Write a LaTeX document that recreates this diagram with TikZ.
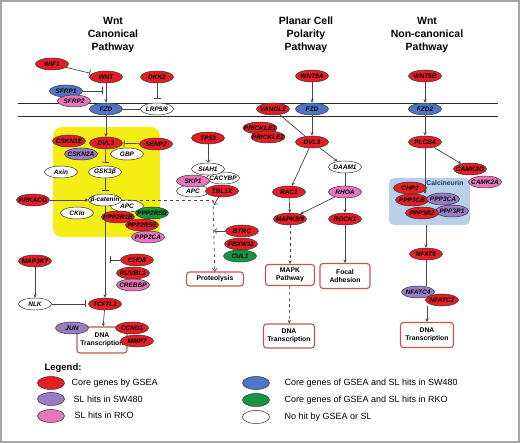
\documentclass[tikz,border=0pt]{standalone}
\usepackage{fontspec}
\setmainfont{Liberation Sans}
\usetikzlibrary{shapes.geometric,arrows.meta}
\definecolor{genered}{RGB}{228,30,36}
\definecolor{geneblue}{RGB}{78,118,196}
\definecolor{genepurple}{RGB}{152,124,198}
\definecolor{genepink}{RGB}{232,118,190}
\definecolor{genegreen}{RGB}{22,150,62}
\definecolor{boxyellow}{RGB}{244,238,20}
\definecolor{calcblue}{RGB}{186,208,234}
\definecolor{calctext}{RGB}{30,52,100}
\definecolor{boxred}{RGB}{196,84,84}
\definecolor{linegray}{RGB}{70,70,70}
\begin{document}
\begin{tikzpicture}[x=1pt,y=-1pt,
  gene/.style={ellipse,draw=black!80,line width=0.5pt,minimum width=33pt,minimum height=12pt,
    inner xsep=-4pt,inner ysep=0pt,font=\fontsize{6.5}{6.5}\selectfont\bfseries\itshape},
  core/.style={gene,fill=genered},
  slsw/.style={gene,fill=genepurple},
  slrko/.style={gene,fill=genepink},
  coresw/.style={gene,fill=geneblue},
  corerko/.style={gene,fill=genegreen},
  nohit/.style={gene,fill=white},
  outcome/.style={draw=boxred,line width=1.1pt,rounded corners=3pt,fill=white,align=center,
    inner sep=1pt,font=\fontsize{6.8}{8.5}\selectfont\bfseries},
  pathtitle/.style={align=center,font=\fontsize{10.5}{13}\selectfont\bfseries},
  legtext/.style={anchor=west,font=\fontsize{9}{10}\selectfont},
  link/.style={draw=linegray,line width=0.7pt},
  arr/.style={link,-{Stealth[length=3.5pt,width=3.2pt]}},
  inh/.style={link,-{Bar[width=7pt,line width=0.8pt]}},
  chev/.style={link,-{Straight Barb[length=2.5pt,width=5pt]}}]

  \useasboundingbox (0,0) rectangle (520,443);
  \draw[gray!70,line width=1.5pt] (1,1) rectangle (519,442);

  \draw (113,35) node[pathtitle] (tcan) {Wnt\\Canonical\\Pathway};
  \draw (306,35) node[pathtitle] (tpcp) {Planar Cell\\Polarity\\Pathway};
  \draw (427,35) node[pathtitle] (tnon) {Wnt\\Non-canonical\\Pathway};

  \draw[black!85,line width=0.9pt] (18,103) -- (498,103);
  \draw[black!85,line width=0.9pt] (18,116) -- (498,116);

  \draw[fill=boxyellow,draw=none,rounded corners=9pt] (53,127) rectangle (160,237);
  \draw (429.5,201.5) node[fill=calcblue,rounded corners=5pt,minimum width=81pt,minimum height=47pt] (calc) {};
  \draw (445,183) node[text=calctext,font=\fontsize{6.8}{7}\selectfont\bfseries] (calclabel) {Calcineurin};

  \draw (52,64) node[core] (wif1) {WIF1};
  \draw (106,77) node[core] (wnt) {WNT};
  \draw (157,77) node[core] (dkk2) {DKK2};
  \draw (66,91) node[coresw] (sfrp1) {SFRP1};
  \draw (74,101) node[slrko] (sfrp2) {SFRP2};
  \draw (106,109) node[coresw] (fzd) {FZD};
  \draw (157,109) node[nohit] (lrp) {LRP5/6};

  \draw (69,141) node[core] (csnk1e) {CSKN1E};
  \draw (106,143) node[core] (dvl) {DVL3};
  \draw (156,144) node[core] (senp2) {SENP2};
  \draw (81,154) node[slsw] (csnk2a) {CSKN2A};
  \draw (127,154) node[nohit] (gbp) {GBP};
  \draw (61,172) node[nohit] (axin) {Axin};
  \draw (105,172) node[nohit] (gsk) {GSK3β};
  \draw (127,206) node[nohit] (apc) {APC};
  \draw (105,200) node[nohit] (bcat) {β-catenin};
  \draw (33,200) node[core] (prkacg) {PRKACG};
  \draw (77,213) node[nohit] (ckia) {CKIα};
  \draw (152,213) node[corerko] (ppp2r5d) {PPP2R5D};
  \draw (118,217) node[core] (ppp2r1b) {PPP2R1B};
  \draw (142,225) node[core] (ppp2r5e) {PPP2R5E};
  \draw (148,237) node[slrko] (ppp2ca) {PPP2CA};

  \draw (208,138) node[core] (tp53) {TP53};
  \draw (223,178) node[nohit] (cacybp) {CACYBP};
  \draw (208,169) node[nohit] (siah1) {SIAH1};
  \draw (193,191) node[nohit] (apcb) {APC};
  \draw (193,181) node[slrko] (skp1) {SKP1};
  \draw (222,191) node[core] (tbl1x) {TBL1X};
  \draw (242,231) node[core] (btrc) {BTRC};
  \draw (241,244) node[core] (fbxw11) {FBXW11};
  \draw (240,256) node[corerko] (cul1) {CUL1};
  \draw (215,279) node[outcome,minimum width=57pt,minimum height=14pt] (prot) {Proteolysis};

  \draw (137,260) node[core] (chd8) {CHD8};
  \draw (133,273) node[core] (ruvbl1) {RUVBL1};
  \draw (133,285) node[slrko] (crebbp) {CREBBP};
  \draw (35,261) node[core] (map3k7) {MAP3K7};
  \draw (35,304) node[nohit] (nlk) {NLK};
  \draw (105,304) node[core] (tcf) {TCF7L1};
  \draw (102,340) node[outcome,minimum width=50pt,minimum height=26pt] (dna1) {DNA\\Transcription};
  \draw (72,328) node[slsw] (jun) {JUN};
  \draw (132,328) node[core] (ccnd1) {CCND1};
  \draw (137,341) node[core] (mmp7) {MMP7};

  \draw (312,76) node[core] (wnt9a) {WNT9A};
  \draw (312,109) node[coresw] (fzdp) {FZD};
  \draw (273,109) node[core] (vangl) {VANGL2};
  \draw (260,128) node[core] (prickle1) {PRICKLE1};
  \draw (268,137) node[core] (prickle2) {PRICKLE2};
  \draw (312,142) node[core] (dvlp) {DVL3};
  \draw (345,167) node[nohit] (daam) {DAAM1};
  \draw (289,192) node[core] (rac) {RAC1};
  \draw (345,192) node[slrko] (rhoa) {RHOA};
  \draw (290,219) node[core] (mapk) {MAPK8/9};
  \draw (345,219) node[core] (rock) {ROCK1};
  \draw (290,275) node[outcome,minimum width=49pt,minimum height=21pt] (mapkpath) {MAPK\\Pathway};
  \draw (345,276) node[outcome,minimum width=50pt,minimum height=25pt] (focal) {Focal\\Adhesion};
  \draw (289,336) node[outcome,minimum width=51pt,minimum height=24pt] (dna2) {DNA\\Transcription};

  \draw (425,76) node[core] (wnt5b) {WNT5B};
  \draw (425,109) node[coresw] (fzd2) {FZD2};
  \draw (425,142) node[core] (plcb4) {PLCB4};
  \draw (470,169) node[core] (camk2g) {CAMK2G};
  \draw (485,182) node[slrko] (camk2a) {CAMK2A};
  \draw (410,188) node[core] (chp2) {CHP2};
  \draw (412,200) node[core] (ppp3cb) {PPP3CB};
  \draw (443,199) node[slsw] (ppp3ca) {PPP3CA};
  \draw (452,211) node[slsw] (ppp3r1) {PPP3R1};
  \draw (422,213) node[core] (ppp3r2) {PPP3R2};
  \draw (426,254) node[core] (nfat5) {NFAT5};
  \draw (418,292) node[slsw] (nfatc4) {NFATC4};
  \draw (442,300) node[core] (nfatc2) {NFATC2};
  \draw (427,335) node[outcome,minimum width=53pt,minimum height=25pt] (dna3) {DNA\\Transcription};

  \draw[inh,shorten >=2pt] (wif1) -- (wnt);
  \draw[arr] (wnt) -- (fzd);
  \coordinate (sfrpbar) at (103,91);
  \draw[inh] (sfrp1) -- (sfrpbar);
  \draw[inh,shorten >=4pt] (dkk2) -- (lrp);
  \draw[link] (fzd) -- (lrp);
  \draw[arr] (fzd) -- (dvl);
  \draw[inh,shorten >=1pt] (senp2) -- (dvl);
  \draw[inh,shorten >=3pt] (dvl) -- (gsk);
  \draw[inh,shorten >=3pt] (gsk) -- (bcat);
  \draw[arr] (prkacg) -- (bcat);
  \draw[arr] (bcat) -- (tcf);
  \coordinate (chdbar) at (110,260);
  \draw[inh] (chd8) -- (chdbar);
  \coordinate (pjoin) at (213,200);
  \draw[link,dashed] (bcat) -- (pjoin);
  \draw[chev,dashed] (pjoin) -- (prot);
  \coordinate (tbltip) at (214,205);
  \draw[chev] (tbl1x) -- (tbltip);
  \coordinate (btrctip) at (214,231);
  \draw[chev] (btrc) -- (btrctip);
  \draw[chev] (tp53) -- (siah1);
  \draw[arr] (map3k7) -- (nlk);
  \draw[inh,shorten >=2pt] (nlk) -- (tcf);
  \draw[arr] (tcf) -- (dna1);

  \draw[arr] (wnt9a) -- (fzdp);
  \draw[arr] (fzdp) -- (dvlp);
  \draw[link] (vangl) -- (dvlp);
  \draw[arr] (dvlp) -- (rac);
  \draw[arr] (dvlp) -- (daam);
  \draw[link] (daam) -- (rhoa);
  \draw[arr] (rac) -- (mapk);
  \draw[arr] (rhoa) -- (mapk);
  \draw[arr] (rhoa) -- (rock);
  \draw[arr,dashed] (mapk) -- (mapkpath);
  \draw[arr] (rock) -- (focal);
  \draw[arr,dashed] (mapkpath) -- (dna2);

  \draw[arr] (wnt5b) -- (fzd2);
  \draw[arr] (fzd2) -- (plcb4);
  \draw[arr] (plcb4) -- (camk2g);
  \coordinate (calctip) at (425,194);
  \draw[arr] (plcb4) -- (calctip);
  \draw[arr] (calc.south -| nfat5) -- (nfat5);
  \draw[link] (nfat5) -- (nfat5 |- nfatc4.north);
  \draw[arr] (nfatc2.south -| dna3) -- (dna3);

  \draw (41,368) node[anchor=west,font=\fontsize{9.5}{10}\selectfont\bfseries] (legend) {Legend:};
  \draw (51,383) node[core,minimum width=27pt,minimum height=13pt] (lgcore) {};
  \draw (51,399) node[slsw,minimum width=27pt,minimum height=13pt] (lgslsw) {};
  \draw (51,416) node[slrko,minimum width=27pt,minimum height=13pt] (lgslrko) {};
  \draw (256,383) node[coresw,minimum width=27pt,minimum height=13pt] (lgcoresw) {};
  \draw (256,400) node[corerko,minimum width=27pt,minimum height=13pt] (lgcorerko) {};
  \draw (256,417) node[nohit,minimum width=27pt,minimum height=13pt] (lgnohit) {};
  \draw (68,383) node[legtext] (tcore) {Core genes by GSEA};
  \draw (70,399) node[legtext] (tslsw) {SL hits in SW480};
  \draw (71,415) node[legtext] (tslrko) {SL hits in RKO};
  \draw (281,383) node[legtext] (tcoresw) {Core genes of GSEA and SL hits in SW480};
  \draw (281,400) node[legtext] (tcorerko) {Core genes of GSEA and SL hits in RKO};
  \draw (281,417) node[legtext] (tnohit) {No hit by GSEA or SL};

\end{tikzpicture}
\end{document}
